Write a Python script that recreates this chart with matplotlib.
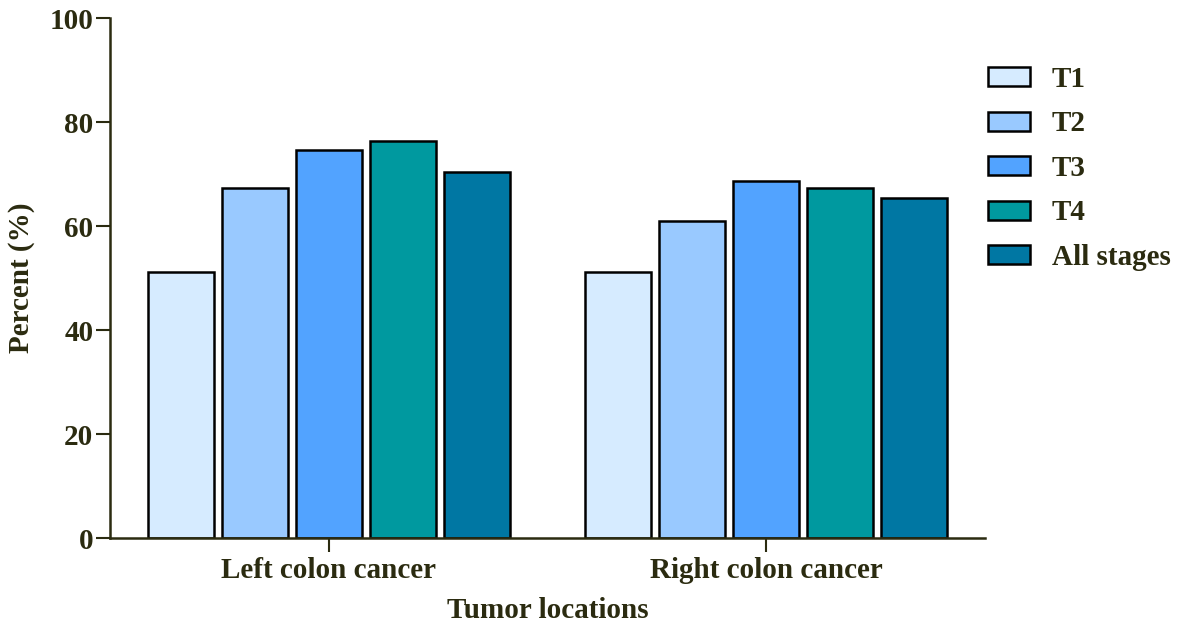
import numpy as np
import matplotlib
matplotlib.use('Agg')
import matplotlib.pyplot as plt

# data
locations = ['Left colon cancer', 'Right colon cancer']
stages = ['T1', 'T2', 'T3', 'T4', 'All stages']
values = {
    'T1': [51.1, 51.1],
    'T2': [67.3, 60.9],
    'T3': [74.7, 68.6],
    'T4': [76.4, 67.4],
    'All stages': [70.4, 65.3],
}
colors = ['#d6ebff', '#99c9ff', '#52a3ff', '#00999f', '#0077a3']

axis_col = '#2b2b10'
plt.rcParams['font.family'] = ['Liberation Serif', 'DejaVu Serif']
plt.rcParams['font.weight'] = 'bold'
fs = 21

fig = plt.figure(figsize=(11.8, 6.23), dpi=100)
ax = fig.add_axes([0.0932, 0.1364, 0.7415, 0.8346])

x = np.arange(len(locations))
step = 0.169
width = 0.151
for i, st in enumerate(stages):
    ax.bar(x + (i - 2) * step, values[st], width, color=colors[i],
           edgecolor='black', linewidth=1.8, label=st, zorder=2)

ax.set_xlim(-0.5, 1.5)
ax.set_ylim(0, 100)
ax.set_yticks(range(0, 101, 20))
ax.set_xticks(x)
ax.set_xticklabels(locations)

for side in ['top', 'right']:
    ax.spines[side].set_visible(False)
for side in ['left', 'bottom']:
    ax.spines[side].set_color(axis_col)
    ax.spines[side].set_linewidth(1.8)

ax.tick_params(axis='both', colors=axis_col, labelsize=fs, width=1.5, length=10)
ax.tick_params(axis='y', pad=2)
ax.tick_params(axis='x', pad=4)
for lbl in ax.get_xticklabels() + ax.get_yticklabels():
    lbl.set_fontweight('bold')
    lbl.set_color(axis_col)

ax.set_ylabel('Percent (%)', fontsize=fs, fontweight='bold', color=axis_col)
ax.set_xlabel('Tumor locations', fontsize=fs, fontweight='bold', color=axis_col)
ax.yaxis.set_label_coords(-0.0857, 0.5)
ax.xaxis.set_label_coords(0.5, -0.113)

leg = ax.legend(loc='upper left', bbox_to_anchor=(1.003, 0.908), frameon=False,
                fontsize=fs, handlelength=1.45, handleheight=0.62,
                labelspacing=0.6, handletextpad=0.76,
                borderpad=0, borderaxespad=0)
for t in leg.get_texts():
    t.set_color(axis_col)
    t.set_fontweight('bold')

fig.savefig('out.png', dpi=100)
